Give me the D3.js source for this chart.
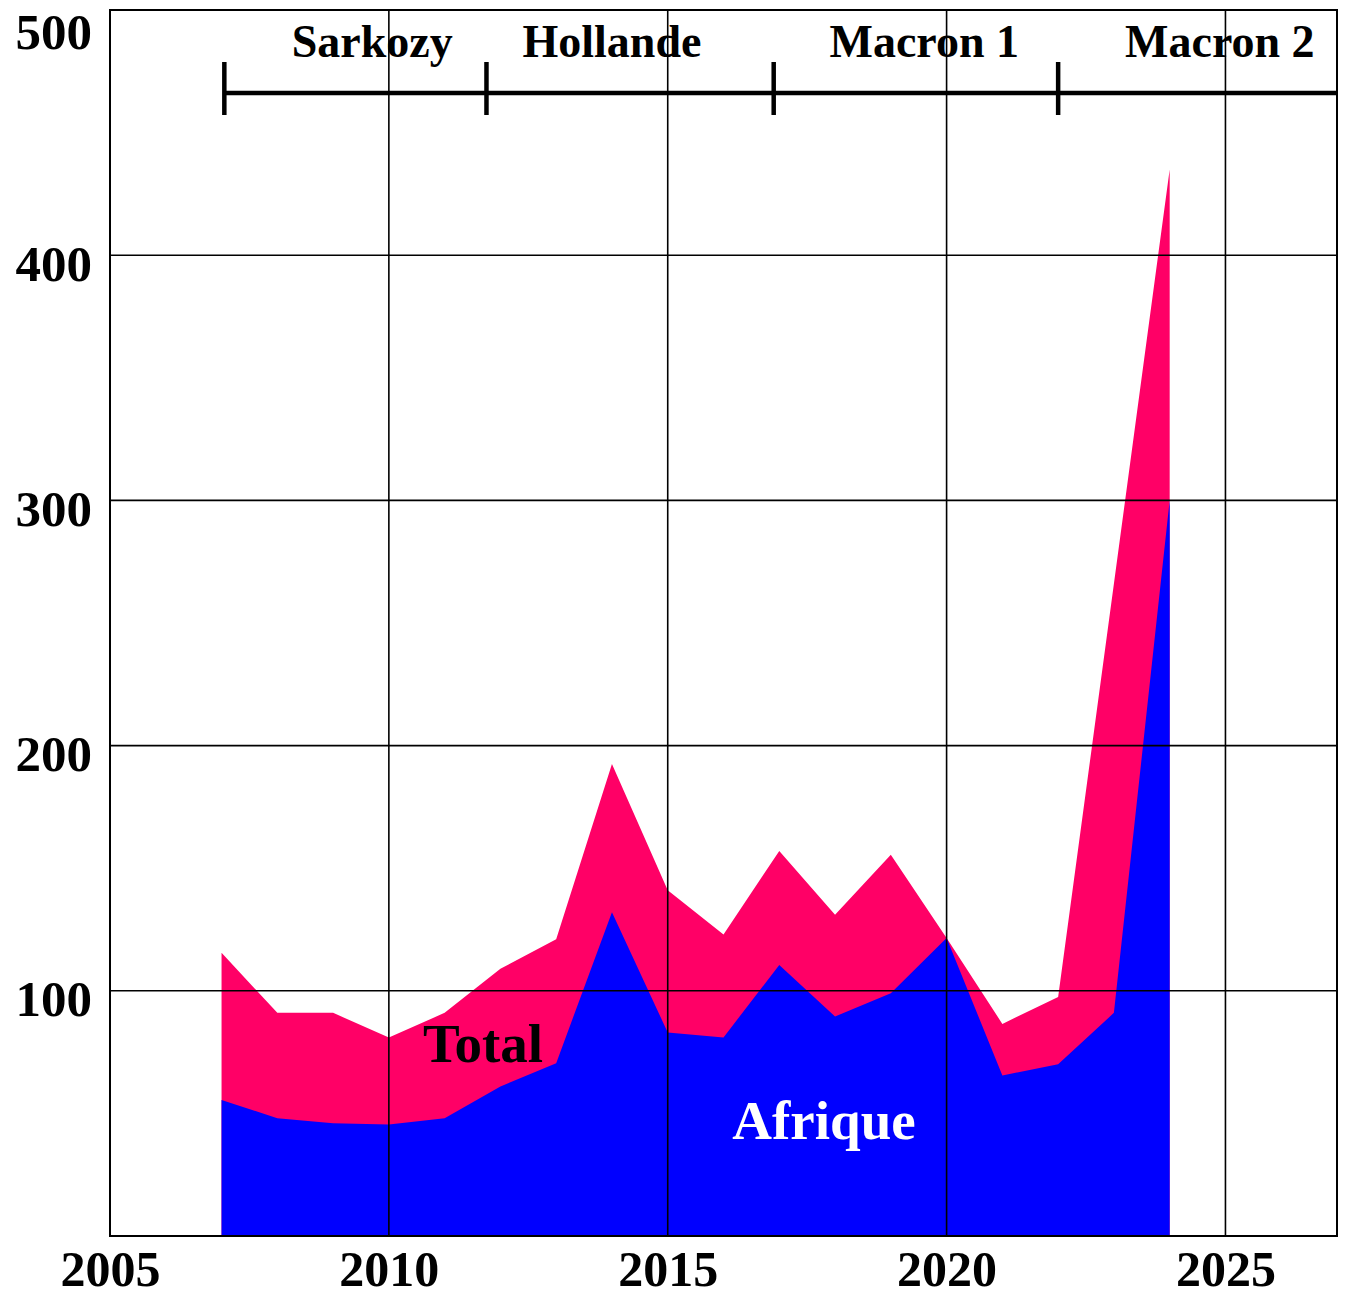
<!DOCTYPE html>
<html>
<head>
<meta charset="utf-8">
<script src="https://cdn.jsdelivr.net/npm/d3@7"></script>
<style>
  html, body { margin: 0; padding: 0; background: #fff; }
  svg text { font-family: "Liberation Serif", "DejaVu Serif", serif; font-weight: bold; }
</style>
</head>
<body>
<svg id="chart" width="1345" height="1296"></svg>
<script>
// data
const years = [2007, 2008, 2009, 2010, 2011, 2012, 2013, 2014, 2015, 2016, 2017, 2018, 2019, 2020, 2021, 2022, 2023, 2024]
const total = [115.5, 91, 91, 81, 91, 109, 121, 192.5, 141, 123, 157, 131, 155.5, 121.5, 86.5, 97.5, 266, 435]
const afrique = [55.5, 48, 46, 45.5, 48, 61, 70.5, 132, 83, 81, 110.5, 89.5, 99, 121.5, 65.5, 70, 91, 300]

const xTicks = [2005, 2010, 2015, 2020, 2025]
const yTicks = [100, 200, 300, 400, 500]

// presidential terms
const termStarts = [2007.05, 2011.75, 2016.9, 2022]
const termNames = ["Sarkozy", "Hollande", "Macron 1", "Macron 2"]
const termLabelAt = [2009.7, 2014, 2019.6, 2024.9]

const svg = d3.select("#chart")
const plotLeft = 110, plotRight = 1337, plotTop = 10, plotBottom = 1236

const x = d3.scaleLinear().domain([2005, 2027]).range([plotLeft, plotRight])
const y = d3.scaleLinear().domain([0, 500]).range([plotBottom, plotTop])

const rows = years.map((yr, i) => ({ year: yr, total: total[i], afrique: afrique[i] }))

// areas
const areaTotal = d3.area()
  .x(d => x(d.year))
  .y0(y(0))
  .y1(d => y(d.total))

const areaAfrique = d3.area()
  .x(d => x(d.year))
  .y0(y(0))
  .y1(d => y(d.afrique))

svg.append("path")
  .datum(rows)
  .attr("d", areaTotal)
  .attr("fill", "#ff0066")

svg.append("path")
  .datum(rows)
  .attr("d", areaAfrique)
  .attr("fill", "#0000ff")

// grid on top of the areas
const grid = svg.append("g")
  .attr("stroke", "#000")
  .attr("stroke-width", 1.6)

grid.selectAll(".vline")
  .data(xTicks.filter(t => t > 2005))
  .enter()
  .append("line")
  .attr("x1", d => x(d))
  .attr("x2", d => x(d))
  .attr("y1", plotTop)
  .attr("y2", plotBottom)

grid.selectAll(".hline")
  .data(yTicks.filter(t => t < 500))
  .enter()
  .append("line")
  .attr("x1", plotLeft)
  .attr("x2", plotRight)
  .attr("y1", d => y(d))
  .attr("y2", d => y(d))

svg.append("rect")
  .attr("x", plotLeft)
  .attr("y", plotTop)
  .attr("width", plotRight - plotLeft)
  .attr("height", plotBottom - plotTop)
  .attr("fill", "none")
  .attr("stroke", "#000")
  .attr("stroke-width", 2)

// axes (labels only)
const yAxis = svg.append("g")
  .attr("transform", `translate(${plotLeft}, 0)`)
  .call(d3.axisLeft(y).tickValues(yTicks).tickSize(0).tickPadding(18))
yAxis.select(".domain").remove()
yAxis.selectAll("text")
  .attr("dy", d => d === 500 ? 38 : 25)   // top label sits lower, inside the page
  .attr("fill", "#000")
  .style("font-size", "51px")

const xAxis = svg.append("g")
  .attr("transform", `translate(0, ${plotBottom})`)
  .call(d3.axisBottom(x).tickValues(xTicks).tickFormat(d3.format("d")).tickSize(0))
xAxis.select(".domain").remove()
xAxis.selectAll("text")
  .attr("y", 50)
  .attr("dy", 0)
  .attr("fill", "#000")
  .style("font-size", "50px")

// presidencies bar
const termY = 93
svg.append("line")
  .attr("x1", x(termStarts[0]))
  .attr("x2", plotRight)
  .attr("y1", termY)
  .attr("y2", termY)
  .attr("stroke", "#000")
  .attr("stroke-width", 4.5)

svg.selectAll(".term-tick")
  .data(termStarts)
  .enter()
  .append("line")
  .attr("x1", d => x(d))
  .attr("x2", d => x(d))
  .attr("y1", termY - 31)
  .attr("y2", termY + 22)
  .attr("stroke", "#000")
  .attr("stroke-width", 4.5)

svg.selectAll(".term-label")
  .data(termNames)
  .enter()
  .append("text")
  .attr("x", (d, i) => x(termLabelAt[i]))
  .attr("y", 57)
  .attr("text-anchor", "middle")
  .style("font-size", "46px")
  .text(d => d)

// series labels
svg.append("text")
  .attr("x", 483)
  .attr("y", 1062)
  .attr("text-anchor", "middle")
  .attr("fill", "#000")
  .style("font-size", "55px")
  .text("Total")

svg.append("text")
  .attr("x", 824)
  .attr("y", 1139)
  .attr("text-anchor", "middle")
  .attr("fill", "#fff")
  .style("font-size", "55px")
  .text("Afrique")
</script>
</body>
</html>
